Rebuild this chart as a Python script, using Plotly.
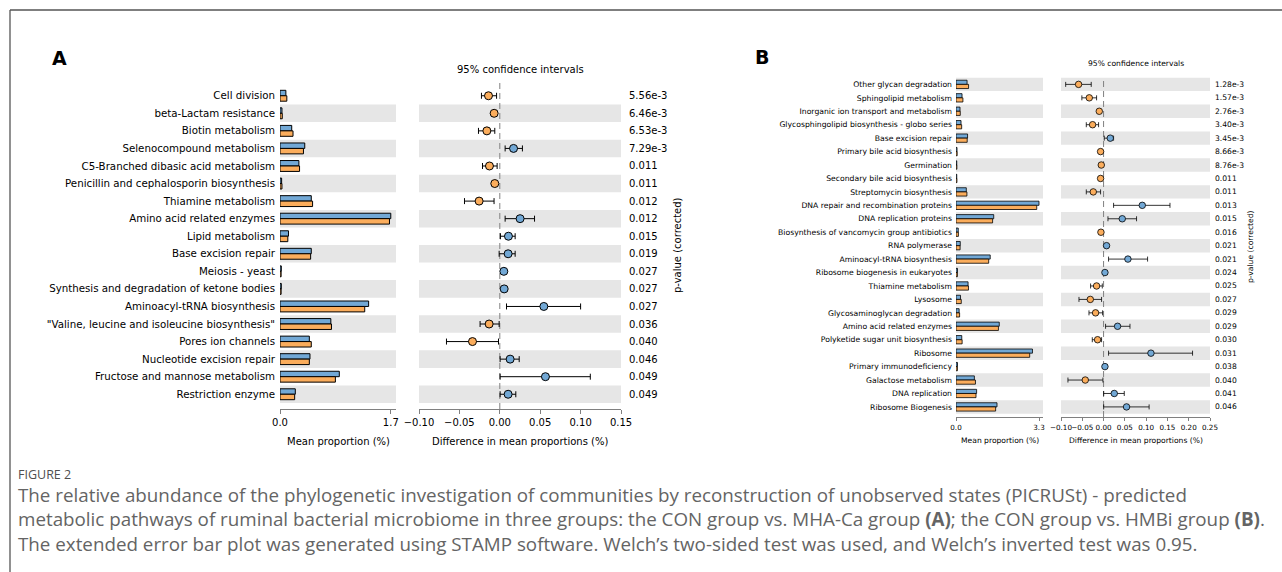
import plotly.graph_objects as go

W, H = 1282, 572

BLUE = "#72a8d5"
ORANGE = "#fbad5c"
BAND = "#e6e6e6"
AXIS_GREY = "#808080"
FONT = "DejaVu Sans"
CAPTION_FONT = "Open Sans"

# ---- Panel A: CON vs MHA-Ca ----
pathways_a = [
    "Cell division", "beta-Lactam resistance", "Biotin metabolism",
    "Selenocompound metabolism", "C5-Branched dibasic acid metabolism",
    "Penicillin and cephalosporin biosynthesis", "Thiamine metabolism",
    "Amino acid related enzymes", "Lipid metabolism", "Base excision repair",
    "Meiosis - yeast", "Synthesis and degradation of ketone bodies",
    "Aminoacyl-tRNA biosynthesis", "\"Valine, leucine and isoleucine biosynthesis\"",
    "Pores ion channels", "Nucleotide excision repair",
    "Fructose and mannose metabolism", "Restriction enzyme",
]
mean_con_a = [0.09, 0.03, 0.18, 0.38, 0.29, 0.025, 0.48, 1.70, 0.13, 0.48,
              0.02, 0.02, 1.36, 0.78, 0.45, 0.46, 0.91, 0.235]
mean_mha_a = [0.105, 0.035, 0.20, 0.36, 0.30, 0.03, 0.50, 1.68, 0.12, 0.47,
              0.017, 0.017, 1.30, 0.79, 0.48, 0.45, 0.85, 0.225]
diff_a = [-0.014, -0.007, -0.016, 0.017, -0.0128, -0.0062, -0.0256, 0.0251,
          0.0107, 0.0103, 0.005, 0.0054, 0.0545, -0.0132, -0.0338, 0.0128,
          0.0565, 0.0103]
ci_low_a = [-0.0227, -0.0103, -0.0264, 0.0066, -0.0214, -0.0091, -0.0437, 0.0066,
            0.0008, -0.0008, 0.003, 0.0035, 0.0083, -0.0244, -0.066, 0.0004,
            0.0004, 0.0004]
ci_high_a = [-0.004, -0.0037, -0.0062, 0.028, -0.0033, -0.0029, -0.0071, 0.043,
             0.019, 0.019, 0.007, 0.0073, 0.100, -0.0008, -0.0016, 0.024,
             0.112, 0.0198]
pvalues_a = ["5.56e-3", "6.46e-3", "6.53e-3", "7.29e-3", "0.011", "0.011",
             "0.012", "0.012", "0.015", "0.019", "0.027", "0.027", "0.027",
             "0.036", "0.040", "0.046", "0.049", "0.049"]
mean_ticks_a = [0.0, 1.7]
diff_ticks_a = [-0.10, -0.05, 0.00, 0.05, 0.10, 0.15]

# ---- Panel B: CON vs HMBi ----
pathways_b = [
    "Other glycan degradation", "Sphingolipid metabolism",
    "Inorganic ion transport and metabolism",
    "Glycosphingolipid biosynthesis - globo series", "Base excision repair",
    "Primary bile acid biosynthesis", "Germination",
    "Secondary bile acid biosynthesis", "Streptomycin biosynthesis",
    "DNA repair and recombination proteins", "DNA replication proteins",
    "Biosynthesis of vancomycin group antibiotics", "RNA polymerase",
    "Aminoacyl-tRNA biosynthesis", "Ribosome biogenesis in eukaryotes",
    "Thiamine metabolism", "Lysosome", "Glycosaminoglycan degradation",
    "Amino acid related enzymes", "Polyketide sugar unit biosynthesis",
    "Ribosome", "Primary immunodeficiency", "Galactose metabolism",
    "DNA replication", "Ribosome Biogenesis",
]
mean_con_b = [0.44, 0.24, 0.16, 0.20, 0.46, 0.04, 0.03, 0.03, 0.41, 3.30,
              1.50, 0.09, 0.17, 1.36, 0.06, 0.48, 0.18, 0.125, 1.72, 0.23,
              3.04, 0.06, 0.73, 0.82, 1.63]
mean_hmbi_b = [0.50, 0.275, 0.17, 0.225, 0.445, 0.047, 0.035, 0.037, 0.434, 3.21,
               1.455, 0.096, 0.163, 1.30, 0.057, 0.496, 0.21, 0.144, 1.687, 0.244,
               2.93, 0.057, 0.773, 0.795, 1.576]
diff_b = [-0.0587, -0.0336, -0.0101, -0.0258, 0.0157, -0.007, -0.0054, -0.007,
          -0.0242, 0.0909, 0.0439, -0.0062, 0.007, 0.0572, 0.0032, -0.0164,
          -0.0312, -0.0188, 0.0329, -0.0141, 0.1113, 0.0032, -0.043, 0.0251, 0.054]
ci_low_b = [-0.089, -0.051, -0.013, -0.0406, 0.0016, -0.009, -0.0075, -0.009,
            -0.0406, 0.0235, 0.0103, -0.008, 0.004, 0.0117, 0.002, -0.0305,
            -0.0578, -0.0343, 0.0047, -0.0265, 0.0117, 0.002, -0.0837, 0.0002, 0.0002]
ci_high_b = [-0.029, -0.0164, -0.007, -0.0117, 0.0235, -0.005, -0.0035, -0.005,
             -0.007, 0.156, 0.0775, -0.0045, 0.010, 0.1034, 0.0045, -0.003,
             -0.0047, -0.0023, 0.062, -0.0047, 0.209, 0.0045, -0.0015, 0.0486, 0.107]
pvalues_b = ["1.28e-3", "1.57e-3", "2.76e-3", "3.40e-3", "3.45e-3", "8.66e-3",
             "8.76e-3", "0.011", "0.011", "0.013", "0.015", "0.016", "0.021",
             "0.021", "0.024", "0.025", "0.027", "0.029", "0.029", "0.030",
             "0.031", "0.038", "0.040", "0.041", "0.046"]
mean_ticks_b = [0.0, 3.3]
diff_ticks_b = [-0.10, -0.05, 0.00, 0.05, 0.10, 0.15, 0.20, 0.25]


def fx(px):
    return px / W


def fy(py):
    return 1 - py / H


fig = go.Figure()
shapes, annotations = [], []


def add_panel(letter, names, m1, m2, diff, lo, hi, pvals, mticks, dticks,
              ax, geo):
    """One extended error bar panel: mean proportions + 95% CI of differences."""
    xb, xc, yl = ax
    fs = geo["font"]
    n = len(names)
    rows = [-i for i in range(n)]
    yrange = [-(n - 0.5) - geo["pad_bot"], 0.5 + geo["pad_top"]]
    lw = geo["edge"]

    fig.add_trace(go.Bar(
        x=m1, y=rows, orientation="h", width=0.31, offset=0.0,
        marker=dict(color=BLUE, line=dict(color="black", width=lw)),
        xaxis=xb, yaxis=yl, showlegend=False, hoverinfo="x"))
    fig.add_trace(go.Bar(
        x=m2, y=rows, orientation="h", width=0.31, offset=-0.31,
        marker=dict(color=ORANGE, line=dict(color="black", width=lw)),
        xaxis=xb, yaxis=yl, showlegend=False, hoverinfo="x"))

    fig.add_trace(go.Scatter(
        x=diff, y=rows, mode="markers",
        marker=dict(size=geo["dot"], color=[BLUE if d > 0 else ORANGE for d in diff],
                    line=dict(color="black", width=lw)),
        error_x=dict(type="data", symmetric=False,
                     array=[h - d for h, d in zip(hi, diff)],
                     arrayminus=[d - l for d, l in zip(diff, lo)],
                     color="black", thickness=lw, width=geo["cap"]),
        xaxis=xc, yaxis=yl, showlegend=False, hoverinfo="x"))

    ykey = "yaxis" if yl == "y" else "yaxis" + yl[1:]
    xbkey = "xaxis" if xb == "x" else "xaxis" + xb[1:]
    xckey = "xaxis" + xc[1:]

    xax = dict(showgrid=False, zeroline=False, showline=True, linecolor=AXIS_GREY,
               linewidth=1, ticks="outside", ticklen=geo["ticklen"], tickcolor=AXIS_GREY,
               tickangle=0, automargin=False,
               tickfont=dict(family=FONT, size=geo["tickfont"], color="black"),
               anchor=yl, fixedrange=True)
    fig.update_layout({
        xbkey: dict(xax, domain=[fx(geo["bar"][0]), fx(geo["bar"][1])],
                    range=[0, geo["bar_max"]], tickvals=mticks,
                    ticktext=[f"{t:.1f}" for t in mticks]),
        xckey: dict(xax, domain=[fx(geo["ci"][0]), fx(geo["ci"][1])],
                    range=[dticks[0], dticks[-1]], tickvals=dticks, tickformat=".2f"),
        ykey: dict(domain=[fy(geo["y"][1]), fy(geo["y"][0])], range=yrange,
                   tickvals=rows, ticktext=names, showgrid=False, zeroline=False,
                   showline=False, ticks="", anchor=xb, ticklabelstandoff=geo["lab_gap"],
                   automargin=False,
                   tickfont=dict(family=FONT, size=geo["labfont"], color="black"),
                   fixedrange=True),
    })

    # alternating row bands, counted from the bottom row
    for i in range(n):
        if (n - 1 - i) % 2 == 0:
            for xa in (xb, xc):
                shapes.append(dict(type="rect", xref=f"{xa} domain", x0=0, x1=1,
                                   yref=yl, y0=-i - 0.5, y1=-i + 0.5,
                                   fillcolor=BAND, line=dict(width=0), layer="below"))
    # zero reference line of the difference axis
    shapes.append(dict(type="line", xref=xc, x0=0, x1=0, yref=f"{yl} domain", y0=0, y1=1,
                       line=dict(color=AXIS_GREY, width=1, dash="6px,4px"), layer="below"))

    tfont = dict(family=FONT, size=fs, color="black")
    # corrected p-values to the right of the difference axis
    for r, p in zip(rows, pvals):
        annotations.append(dict(text=p, xref=f"{xc} domain", x=1, xanchor="left",
                                xshift=geo["p_gap"], yref=yl, y=r, yanchor="middle",
                                showarrow=False, font=tfont))
    mid = dict(showarrow=False, xanchor="center", yanchor="middle", font=tfont)
    annotations.extend([
        dict(mid, text="95% confidence intervals", xref=f"{xc} domain", x=0.5,
             yref="paper", y=fy(geo["ci_title_y"])),
        dict(mid, text="Mean proportion (%)", xref=f"{xb} domain", x=0.5,
             yref="paper", y=fy(geo["xtitle_y"])),
        dict(mid, text="Difference in mean proportions (%)", xref=f"{xc} domain", x=0.5,
             yref="paper", y=fy(geo["xtitle_y"])),
        dict(mid, text="p-value (corrected)", xref="paper", x=fx(geo["pv_title_x"]),
             yref=f"{yl} domain", y=0.5, textangle=-90),
        dict(mid, text=f"<b>{letter}</b>", xref="paper", x=fx(geo["letter"][0]),
             yref="paper", y=fy(geo["letter"][1]),
             font=dict(family=FONT, size=19, color="black")),
    ])


add_panel("A", pathways_a, mean_con_a, mean_mha_a, diff_a, ci_low_a, ci_high_a,
          pvalues_a, mean_ticks_a, diff_ticks_a, ("x", "x2", "y"),
          dict(font=10, labfont=10.25, tickfont=10, edge=1, dot=8, cap=3, ticklen=4,
               bar=(280, 396), bar_max=1.78, ci=(419, 621), y=(81, 409),
               pad_top=0.34, pad_bot=0.34, lab_gap=4, p_gap=6, ci_title_y=69,
               xtitle_y=441, pv_title_x=677, letter=(59, 58)))

add_panel("B", pathways_b, mean_con_b, mean_hmbi_b, diff_b, ci_low_b, ci_high_b,
          pvalues_b, mean_ticks_b, diff_ticks_b, ("x3", "x4", "y2"),
          dict(font=7.6, labfont=7.7, tickfont=7.2, edge=0.8, dot=6.5, cap=2.5,
               ticklen=3, bar=(956, 1043), bar_max=3.459, ci=(1061, 1210),
               y=(77, 417), pad_top=0.05, pad_bot=0.25, lab_gap=3, p_gap=3,
               ci_title_y=64, xtitle_y=440, pv_title_x=1250, letter=(762, 57)))

# figure frame
shapes.append(dict(type="line", xref="paper", yref="paper", x0=fx(10), x1=1,
                   y0=fy(10), y1=fy(10), line=dict(color="#555555", width=1.3)))
shapes.append(dict(type="line", xref="paper", yref="paper", x0=fx(10), x1=fx(10),
                   y0=0, y1=fy(10), line=dict(color="#555555", width=1.3)))

# caption
cap_color = "#646464"
annotations.append(dict(text="FIGURE 2", xref="paper", x=fx(16), xanchor="left",
                        yref="paper", y=fy(474), yanchor="middle", showarrow=False,
                        font=dict(family=CAPTION_FONT, size=12.5, color="#4f4f4f")))
caption_lines = [
    "The relative abundance of the phylogenetic investigation of communities by "
    "reconstruction of unobserved states (PICRUSt) - predicted",
    "metabolic pathways of ruminal bacterial microbiome in three groups: the CON group "
    "vs. MHA-Ca group <b>(A)</b>; the CON group vs. HMBi group <b>(B)</b>.",
    "The extended error bar plot was generated using STAMP software. Welch\u2019s "
    "two-sided test was used, and Welch\u2019s inverted test was 0.95.",
]
annotations.append(dict(text="<br>".join(caption_lines), xref="paper", x=fx(16),
                        xanchor="left", align="left", yref="paper", y=fy(519),
                        yanchor="middle", showarrow=False,
                        font=dict(family=CAPTION_FONT, size=18.8, color=cap_color)))

fig.update_layout(
    width=W, height=H, margin=dict(l=0, r=0, t=0, b=0, autoexpand=False),
    paper_bgcolor="white", plot_bgcolor="rgba(0,0,0,0)",
    barmode="overlay", shapes=shapes, annotations=annotations,
)

fig.write_html("out.html")
